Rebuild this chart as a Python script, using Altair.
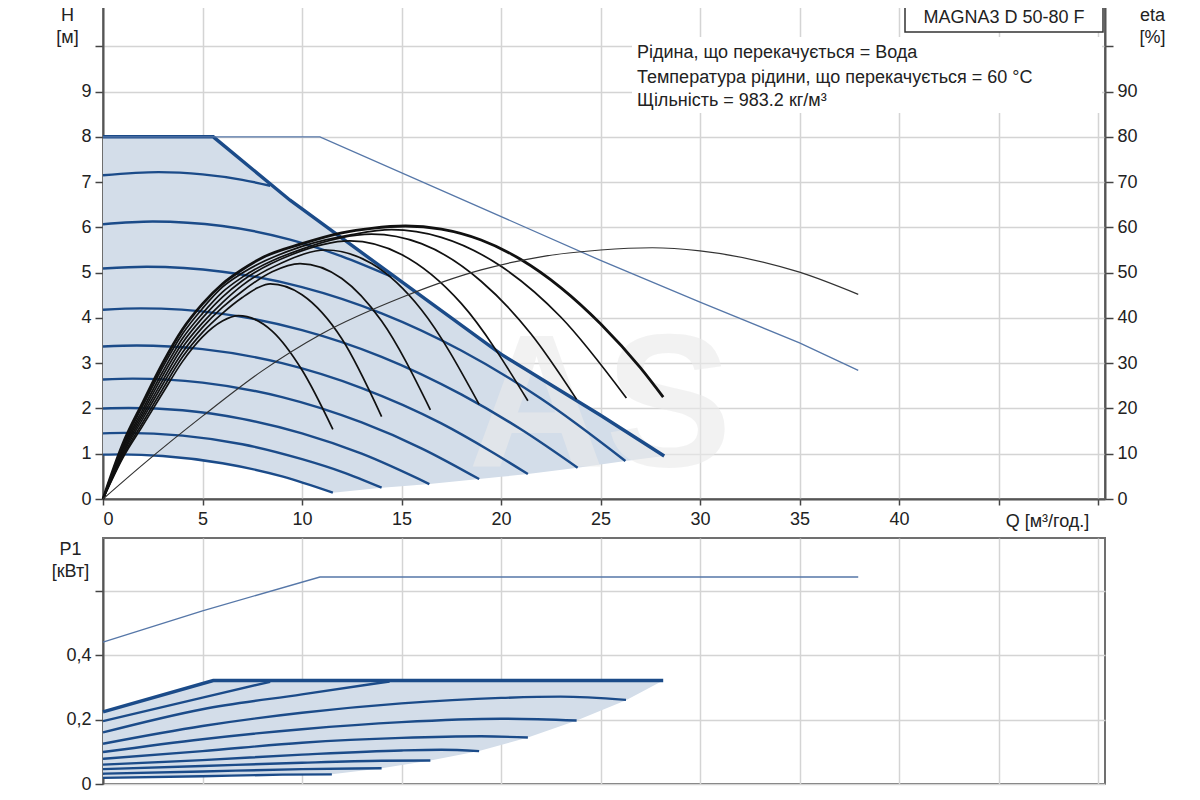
import altair as alt
import pandas as pd

# ---------------- axis ticks ----------------
Q_TICKS = [0, 5, 10, 15, 20, 25, 30, 35, 40, 45, 50]
H_TICKS = [0, 1, 2, 3, 4, 5, 6, 7, 8, 9, 10]
ETA_TICKS = [0, 10, 20, 30, 40, 50, 60, 70, 80, 90, 100]
P_TICKS = [0, 0.2, 0.4, 0.6]

# ---------------- H (head) curves, m ----------------
HMAX_Q = [0, 5.54, 9.4, 15, 20, 25, 28.2]
HMAX_H = [8, 8, 6.6, 4.8, 3.2, 1.85, 0.95]

HTHIN_Q = [0, 10.9, 25, 30, 35, 37.95]
HTHIN_H = [8, 8, 5.27, 4.35, 3.45, 2.84]

S1_Q = [0, 2.8, 5, 7, 8.4]
S1_H = [7.15, 7.22, 7.17, 7.05, 6.92]
S2_Q = [0, 2.5, 6, 9.4, 12, 14.5]
S2_H = [6.07, 6.13, 6.03, 5.73, 5.36, 4.91]
S3_Q = [0, 2.2, 6, 10, 14, 18, 22, 26.25]
S3_H = [5.09, 5.13, 5.02, 4.68, 4.10, 3.28, 2.22, 0.84]
S4_Q = [0, 1.9, 6, 10, 14, 18, 21, 23.85]
S4_H = [4.18, 4.21, 4.09, 3.73, 3.14, 2.31, 1.54, 0.69]
S5_Q = [0, 1.7, 5, 9, 13, 17, 19.5, 21.35]
S5_H = [3.37, 3.39, 3.31, 3.00, 2.45, 1.67, 1.05, 0.55]
S6_Q = [0, 1.5, 5, 9, 13, 16, 18.9]
S6_H = [2.64, 2.66, 2.57, 2.25, 1.69, 1.12, 0.44]
S7_Q = [0, 1.3, 4, 7, 10, 13, 16.4]
S7_H = [2.00, 2.01, 1.96, 1.77, 1.45, 1.00, 0.33]
S8_Q = [0, 1.1, 4, 7, 10, 12, 14]
S8_H = [1.45, 1.46, 1.40, 1.21, 0.88, 0.60, 0.25]
S9_Q = [0, 0.9, 3, 6, 9, 11.55]
S9_H = [0.98, 0.985, 0.95, 0.79, 0.50, 0.14]

# operating area (H)
BAND_H_Q = [0, 3, 5.54, 6, 7.5, 9, 9.4, 10.5, 11.55, 14, 15, 16.4, 18.9, 20, 21.35, 23.85, 25, 26.25, 28.2]
BAND_H_TOP = [8, 8, 8, 7.83, 7.29, 6.74, 6.6, 6.25, 5.91, 5.12, 4.8, 4.35, 3.55, 3.2, 2.84, 2.16, 1.85, 1.50, 0.95]
BAND_H_BOT = [0.98, 0.95, 0.83, 0.79, 0.66, 0.50, 0.45, 0.30, 0.14, 0.25, 0.28, 0.33, 0.44, 0.49, 0.55, 0.69, 0.76, 0.84, 0.95]

# ---------------- eta curves, % ----------------
ETHICK_Q = [0, 1, 2, 3, 4, 5, 6, 7, 8, 10, 12, 13.5, 15.2, 17, 19, 21, 23, 25, 27, 28.15]
ETHICK = [0, 12.2, 21.3, 30, 37.5, 43.1, 47.5, 50.7, 53.3, 56.4, 58.8, 59.8, 60.3, 59.6, 57.2, 52.9, 46.7, 38.7, 29, 22.5]

E1_Q = [0, 1, 2, 3, 4, 5, 6, 6.8, 8.5, 10, 11.55]
E1 = [0, 9.1, 16.2, 23.4, 30.4, 35.8, 39.3, 40.5, 37.1, 28.5, 15.4]
E2_Q = [0, 1, 2, 3, 4, 5, 6, 7, 7.8, 8.4, 10, 12, 14]
E2 = [0, 9.5, 16.9, 24.3, 31.4, 36.8, 41, 44.5, 46.7, 47.5, 45.1, 35.4, 18.2]
E3_Q = [0, 1, 2, 3, 4, 5, 6, 7, 8.5, 9.9, 12, 14, 16.45]
E3 = [0, 10.0, 17.7, 25.3, 32.4, 37.9, 42.3, 45.9, 50.2, 52, 48.7, 39.3, 19.7]
E4_Q = [0, 1, 2, 3, 4, 5, 6, 7, 9, 11.2, 13.5, 16, 18.9]
E4 = [0, 10.4, 18.4, 26.2, 33.5, 38.9, 43.4, 47.2, 52.2, 55, 52.0, 41.8, 20.9]
E5_Q = [0, 1, 2, 3, 4, 5, 6, 7, 9.5, 12.4, 15, 18, 21.35]
E5 = [0, 10.9, 19.1, 27.2, 34.5, 40.0, 44.6, 48.2, 54.0, 57, 54.0, 43.2, 21.7]
E6_Q = [0, 1, 2, 3, 4, 5, 6, 7, 10, 13.5, 16, 19, 21.5, 23.8]
E6 = [0, 11.3, 19.8, 28.1, 35.5, 41.0, 45.7, 49.0, 55.2, 58.5, 56.4, 48.1, 36.5, 22.0]
E7_Q = [0, 1, 2, 3, 4, 5, 6, 7, 10, 12.5, 14.5, 17, 20, 23, 26.3]
E7 = [0, 11.8, 20.6, 29.1, 36.5, 42.1, 46.8, 49.9, 55.8, 58.4, 59.5, 57.8, 51.4, 40.2, 22.3]

ETHIN_Q = [0, 2, 5, 8, 11, 15, 19, 22, 25, 27.6, 30, 35, 37.95]
ETHIN = [0, 7.6, 18.3, 28.3, 36.5, 44.5, 50.6, 53.5, 55, 55.5, 54.8, 50.1, 45.2]

# ---------------- P1 curves, kW ----------------
PMAX_Q = [0, 5.54, 28.15]
PMAX = [0.224, 0.321, 0.321]
PTHIN_Q = [0, 5, 10.9, 37.95]
PTHIN = [0.44, 0.537, 0.642, 0.642]

P1_Q = [0, 5, 8.4]
P1 = [0.195, 0.268, 0.317]
P2_Q = [0, 5, 10, 14.4]
P2 = [0.16, 0.232, 0.278, 0.318]
P3_Q = [0, 5, 10, 15, 20, 23, 26.28]
P3 = [0.125, 0.18, 0.221, 0.25, 0.267, 0.271, 0.261]
P4_Q = [0, 5, 10, 15, 20, 23.8]
P4 = [0.099, 0.139, 0.17, 0.192, 0.2025, 0.197]
P5_Q = [0, 5, 10, 15, 19, 21.35]
P5 = [0.078, 0.102, 0.128, 0.143, 0.148, 0.144]
P6_Q = [0, 5, 10, 15, 17, 18.9]
P6 = [0.06, 0.074, 0.091, 0.104, 0.106, 0.102]
P7_Q = [0, 5, 10, 14, 16.45]
P7 = [0.046, 0.056, 0.066, 0.072, 0.073]
P8_Q = [0, 5, 10, 14]
P8 = [0.032, 0.039, 0.046, 0.049]
P9_Q = [0, 5, 9, 11.5]
P9 = [0.019, 0.024, 0.029, 0.030]

BAND_P_Q = [0, 5, 5.54, 9, 11.5, 14, 16.45, 18.9, 21.35, 23.8, 26.28, 28.15]
BAND_P_TOP = [0.224, 0.312, 0.321, 0.321, 0.321, 0.321, 0.321, 0.321, 0.321, 0.321, 0.321, 0.321]
BAND_P_BOT = [0.019, 0.024, 0.0245, 0.029, 0.030, 0.049, 0.073, 0.102, 0.144, 0.197, 0.26, 0.321]

# ---------------- texts ----------------
MODEL = "MAGNA3 D 50-80 F"
INFO = ["Рідина, що перекачується = Вода",
        "Температура рідини, що перекачується = 60 °C",
        "Щільність = 983.2 кг/м³"]
WATERMARK = "AS"

BLUE = "#1b4b89"
THIN_BLUE = "#5677a8"
FILL = "#d3dde9"
BLACK = "#111111"
FONT = "Liberation Sans"


def frame(pairs, ycol):
    rows = []
    for name, qs, ys in pairs:
        for q, y in zip(qs, ys):
            rows.append({"curve": name, "Q": q, ycol: y})
    return pd.DataFrame(rows)


speed_h = frame([("s1", S1_Q, S1_H), ("s2", S2_Q, S2_H), ("s3", S3_Q, S3_H),
                 ("s4", S4_Q, S4_H), ("s5", S5_Q, S5_H), ("s6", S6_Q, S6_H),
                 ("s7", S7_Q, S7_H), ("s8", S8_Q, S8_H), ("s9", S9_Q, S9_H)], "H")
max_h = frame([("max", HMAX_Q, HMAX_H)], "H")
thin_h = frame([("thin", HTHIN_Q, HTHIN_H)], "H")
band_h = pd.DataFrame({"Q": BAND_H_Q, "top": BAND_H_TOP, "bot": BAND_H_BOT})

eta_df = frame([("e1", E1_Q, E1), ("e2", E2_Q, E2), ("e3", E3_Q, E3), ("e4", E4_Q, E4),
                ("e5", E5_Q, E5), ("e6", E6_Q, E6), ("e7", E7_Q, E7)], "eta")
eta_thick = frame([("thick", ETHICK_Q, ETHICK)], "eta")
eta_thin = frame([("thin", ETHIN_Q, ETHIN)], "eta")

p_df = frame([("p1", P1_Q, P1), ("p2", P2_Q, P2), ("p3", P3_Q, P3), ("p4", P4_Q, P4),
              ("p5", P5_Q, P5), ("p6", P6_Q, P6), ("p7", P7_Q, P7), ("p8", P8_Q, P8),
              ("p9", P9_Q, P9)], "P")
p_max = frame([("max", PMAX_Q, PMAX)], "P")
p_thin = frame([("thin", PTHIN_Q, PTHIN)], "P")
band_p = pd.DataFrame({"Q": BAND_P_Q, "top": BAND_P_TOP, "bot": BAND_P_BOT})
one = pd.DataFrame({"k": [0]})

# ---------------- scales / axes ----------------
xscale = alt.Scale(domain=[0, 50.35], nice=False, zero=False)
x_axis_top = alt.Axis(values=Q_TICKS, labelExpr="datum.value <= 40 ? datum.label : ''",
                      title="Q [м³/год.]", titleX=944, titleY=22, titleAlign="center",
                      titleBaseline="middle", tickSize=6, labelPadding=5, grid=True)
x_axis_bot = alt.Axis(values=Q_TICKS, labels=False, ticks=False, title=None, grid=True,
                      domain=False)

XT = alt.X("Q:Q", scale=xscale, axis=x_axis_top)
XB = alt.X("Q:Q", scale=xscale, axis=x_axis_bot)

hscale = alt.Scale(domain=[0, 11], nice=False)
h_axis = alt.Axis(values=H_TICKS, labelExpr="datum.value < 10 ? datum.label : ''",
                  title=["H", "[м]"], titleAngle=0, titleX=-36, titleY=5,
                  titleAlign="center", titleBaseline="top", titleLineHeight=22,
                  orient="left", grid=True, tickSize=8, labelPadding=4)
YH = alt.Y("H:Q", scale=hscale, axis=h_axis)

escale = alt.Scale(domain=[0, 110], nice=False)
e_axis = alt.Axis(values=ETA_TICKS, labelExpr="datum.value < 100 ? datum.label : ''",
                  title=["eta", "[%]"], titleAngle=0, titleX=47, titleY=5,
                  titleAlign="center", titleBaseline="top", titleLineHeight=22,
                  orient="right", grid=False, tickSize=8, labelPadding=4)
YE = alt.Y("eta:Q", scale=escale, axis=e_axis)

pscale = alt.Scale(domain=[0, 0.763], nice=False)
p_axis = alt.Axis(values=P_TICKS,
                  labelExpr="datum.value == 0 ? '0' : (datum.value < 0.5 ? replace(format(datum.value, '.1f'), '.', ',') : '')",
                  title=["P1", "[кВт]"], titleAngle=0, titleX=-33, titleY=2,
                  titleAlign="center", titleBaseline="top", titleLineHeight=22,
                  orient="left", grid=True, tickSize=8, labelPadding=4)
YP = alt.Y("P:Q", scale=pscale, axis=p_axis)

# ---------------- top chart: H ----------------
band_h_layer = alt.Chart(band_h).mark_area(color=FILL, opacity=1).encode(
    x=XT, y=alt.Y("top:Q", scale=hscale, axis=h_axis), y2="bot:Q")

watermark = alt.Chart(one).mark_text(
    text=WATERMARK, font="Liberation Sans Narrow, Liberation Sans, sans-serif",
    fontSize=190, fontWeight="bold",
    color="#ebebeb", opacity=0.6, align="center", baseline="bottom"
).encode(x=alt.value(497), y=alt.value(505))

info_bg = alt.Chart(one).mark_rect(color="white").encode(
    x=alt.value(529), x2=alt.value(999), y=alt.value(36), y2=alt.value(112))
model_box = alt.Chart(one).mark_rect(fill="white", stroke="#333333", strokeWidth=1.5).encode(
    x=alt.value(802), x2=alt.value(1000), y=alt.value(0), y2=alt.value(31))
model_text = alt.Chart(one).mark_text(
    text=MODEL, font=FONT, fontSize=18, color="#222222", align="center", baseline="middle"
).encode(x=alt.value(901), y=alt.value(17))
info_texts = [
    alt.Chart(one).mark_text(text=t, font=FONT, fontSize=18, color="#222222",
                             align="left", baseline="middle").encode(
        x=alt.value(534), y=alt.value(yy))
    for t, yy in zip(INFO, [52, 77, 100])
]

speed_lines = alt.Chart(speed_h).mark_line(color=BLUE, strokeWidth=2.4, interpolate="monotone").encode(
    x=XT, y=YH, detail="curve:N")
max_line = alt.Chart(max_h).mark_line(color=BLUE, strokeWidth=3.4, interpolate="linear").encode(
    x=XT, y=YH)
thin_line = alt.Chart(thin_h).mark_line(color=THIN_BLUE, strokeWidth=1.3).encode(x=XT, y=YH)

h_group = alt.layer(band_h_layer, watermark, info_bg, model_box, model_text, *info_texts,
                    speed_lines, max_line, thin_line)

eta_lines = alt.Chart(eta_df).mark_line(color=BLACK, strokeWidth=1.7, interpolate="monotone").encode(
    x=XT, y=YE, detail="curve:N")
eta_thick_line = alt.Chart(eta_thick).mark_line(color=BLACK, strokeWidth=2.8, interpolate="monotone").encode(
    x=XT, y=YE)
eta_thin_line = alt.Chart(eta_thin).mark_line(color="#333333", strokeWidth=1.2, interpolate="monotone").encode(
    x=XT, y=YE)
eta_group = alt.layer(eta_lines, eta_thick_line, eta_thin_line)

top = alt.layer(h_group, eta_group).resolve_scale(y="independent").properties(width=1002, height=498)

# ---------------- bottom chart: P1 ----------------
band_p_layer = alt.Chart(band_p).mark_area(color=FILL, opacity=1).encode(
    x=XB, y=alt.Y("top:Q", scale=pscale, axis=p_axis), y2="bot:Q")
p_lines = alt.Chart(p_df).mark_line(color=BLUE, strokeWidth=2.4, interpolate="monotone").encode(
    x=XB, y=YP, detail="curve:N")
p_max_line = alt.Chart(p_max).mark_line(color=BLUE, strokeWidth=3.4).encode(x=XB, y=YP)
p_thin_line = alt.Chart(p_thin).mark_line(color=THIN_BLUE, strokeWidth=1.3).encode(x=XB, y=YP)

bottom = alt.layer(band_p_layer, p_lines, p_max_line, p_thin_line).properties(width=1002, height=246)

chart = alt.vconcat(top, bottom, spacing=39, bounds="flush").properties(
    padding={"left": 42, "top": -9, "right": 10, "bottom": 2}
).configure_axis(
    gridColor="#d4d4d4", gridWidth=1.5, domainColor="#555555", domainWidth=2,
    tickColor="#444444", tickWidth=1.5, labelFont=FONT, labelFontSize=18,
    labelColor="#222222", titleFont=FONT, titleFontSize=18, titleFontWeight="normal",
    titleColor="#222222"
).configure_view(stroke="#707070", strokeWidth=2)

chart.save("out.html", embed_options={"renderer": "svg", "actions": False})
